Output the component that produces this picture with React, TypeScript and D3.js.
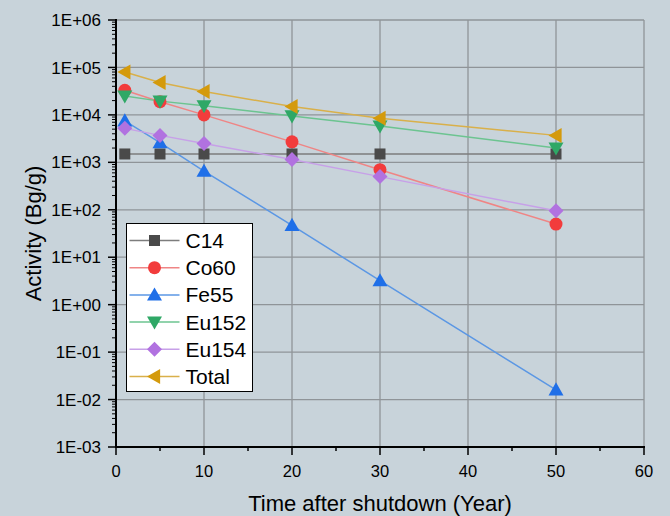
import React, { useEffect, useRef } from 'react';
import * as d3 from 'd3';

const years = [1, 5, 10, 20, 30, 50];
const seriesNames = ['C14', 'Co60', 'Fe55', 'Eu152', 'Eu154', 'Total'];
const c14 = [1500, 1500, 1500, 1500, 1500, 1500];
const co60 = [33000, 19000, 10000, 2700, 700, 50];
const fe55 = [7500, 2600, 650, 47, 3.2, 0.016];
const eu152 = [25000, 19500, 15500, 9500, 5800, 2000];
const eu154 = [5200, 3700, 2500, 1150, 500, 95];
const total = [80000, 48000, 31000, 15000, 8500, 3700];
const yTickLabels = ['1E-03', '1E-02', '1E-01', '1E+00', '1E+01', '1E+02', '1E+03', '1E+04', '1E+05', '1E+06'];

const markerColors = ['#4a4a4a', '#f23c3c', '#1f6fe8', '#2fa866', '#b172e0', '#d49a0c'];
const lineColors = ['#7d7d7d', '#ef8585', '#5b97e4', '#6cc490', '#c7a0e8', '#d9b04a'];
const symbols = ['square', 'circle', 'up', 'down', 'diamond', 'left'];

const W = 670, H = 516;
const margin = { left: 116, right: 26, top: 20, bottom: 69 };
const font = 'Liberation Sans, Arial, sans-serif';

function drawMarker(g, kind, x, y, color) {
  let path;
  if (kind === 'square') {
    g.append('rect').attr('x', x - 5.5).attr('y', y - 5.5).attr('width', 11).attr('height', 11).attr('fill', color);
    return;
  }
  if (kind === 'circle') {
    g.append('circle').attr('cx', x).attr('cy', y).attr('r', 6.5).attr('fill', color);
    return;
  }
  const s = 7.5;
  if (kind === 'up') path = `M${x},${y - s}L${x + s},${y + s * 0.75}L${x - s},${y + s * 0.75}Z`;
  if (kind === 'down') path = `M${x},${y + s}L${x + s},${y - s * 0.75}L${x - s},${y - s * 0.75}Z`;
  if (kind === 'left') path = `M${x - s},${y}L${x + s * 0.75},${y - s}L${x + s * 0.75},${y + s}Z`;
  if (kind === 'diamond') path = `M${x},${y - 7.5}L${x + 7.5},${y}L${x},${y + 7.5}L${x - 7.5},${y}Z`;
  g.append('path').attr('d', path).attr('fill', color);
}

export default function App() {
  const ref = useRef(null);

  useEffect(() => {
    const svg = d3.select(ref.current);
    svg.selectAll('*').remove();

    const x = d3.scaleLinear().domain([0, 60]).range([margin.left, W - margin.right]);
    const y = d3.scaleLog().domain([1e-3, 1e6]).range([H - margin.bottom, margin.top]);

    svg.append('rect').attr('width', W).attr('height', H).attr('fill', '#c8d3da');

    // grid
    const grid = svg.append('g').attr('stroke', '#8f9498').attr('stroke-width', 1.3);
    d3.range(10, 61, 10).forEach(v => {
      grid.append('line').attr('x1', x(v)).attr('x2', x(v)).attr('y1', y(1e6)).attr('y2', y(1e-3));
    });
    d3.range(-2, 7).forEach(p => {
      grid.append('line').attr('x1', x(0)).attr('x2', x(60)).attr('y1', y(Math.pow(10, p))).attr('y2', y(Math.pow(10, p)));
    });

    // series
    const all = [c14, co60, fe55, eu152, eu154, total];
    const line = d3.line().x((d, i) => x(years[i])).y(d => y(d));
    all.forEach((vals, k) => {
      svg.append('path').datum(vals).attr('d', line).attr('fill', 'none')
        .attr('stroke', lineColors[k]).attr('stroke-width', 1.5);
    });
    all.forEach((vals, k) => {
      const g = svg.append('g');
      vals.forEach((v, i) => drawMarker(g, symbols[k], x(years[i]), y(v), markerColors[k]));
    });

    // axes
    const ax = svg.append('g').attr('font-family', font);
    ax.append('line').attr('x1', x(0)).attr('x2', x(0)).attr('y1', y(1e6) - 1).attr('y2', y(1e-3) + 1).attr('stroke', '#000').attr('stroke-width', 2);
    ax.append('line').attr('x1', x(0) - 1).attr('x2', x(60) + 1).attr('y1', y(1e-3)).attr('y2', y(1e-3)).attr('stroke', '#000').attr('stroke-width', 2);

    d3.range(-3, 7).forEach((p, i) => {
      const yy = y(Math.pow(10, p));
      ax.append('line').attr('x1', x(0) - 8).attr('x2', x(0)).attr('y1', yy).attr('y2', yy).attr('stroke', '#000').attr('stroke-width', 1.5);
      ax.append('text').attr('x', x(0) - 15).attr('y', yy).attr('dy', '0.36em').attr('text-anchor', 'end')
        .attr('font-size', 17).text(yTickLabels[i]);
      if (p < 6) {
        for (let m = 2; m <= 9; m++) {
          const ym = y(m * Math.pow(10, p));
          ax.append('line').attr('x1', x(0) - 4).attr('x2', x(0)).attr('y1', ym).attr('y2', ym).attr('stroke', '#000').attr('stroke-width', 1);
        }
      }
    });

    d3.range(0, 61, 5).forEach(v => {
      const major = v % 10 === 0;
      ax.append('line').attr('x1', x(v)).attr('x2', x(v)).attr('y1', y(1e-3)).attr('y2', y(1e-3) + (major ? 8 : 4))
        .attr('stroke', '#000').attr('stroke-width', 1.5);
      if (major) {
        ax.append('text').attr('x', x(v)).attr('y', 477).attr('text-anchor', 'middle')
          .attr('font-size', 16.5).text(v);
      }
    });

    ax.append('text').attr('x', (x(0) + x(60)) / 2).attr('y', 511).attr('text-anchor', 'middle')
      .attr('font-size', 22).text('Time after shutdown (Year)');
    ax.append('text').attr('transform', `translate(41,${(y(1e6) + y(1e-3)) / 2}) rotate(-90)`)
      .attr('text-anchor', 'middle').attr('font-size', 22).text('Activity (Bg/g)');

    // legend
    const lg = svg.append('g').attr('transform', 'translate(126.5,223.5)').attr('font-family', font);
    lg.append('rect').attr('width', 126).attr('height', 168).attr('fill', '#fff').attr('stroke', '#000').attr('stroke-width', 1);
    seriesNames.forEach((name, k) => {
      const ly = 17 + k * 27.2;
      lg.append('line').attr('x1', 3).attr('x2', 53).attr('y1', ly).attr('y2', ly).attr('stroke', lineColors[k]).attr('stroke-width', 1.5);
      drawMarker(lg, symbols[k], 28, ly, markerColors[k]);
      lg.append('text').attr('x', 59).attr('y', ly).attr('dy', '0.36em').attr('font-size', 21).text(name);
    });
  }, []);

  return <svg ref={ref} width={W} height={H} style={{ position: 'absolute', left: 0, top: 0 }} />;
}
